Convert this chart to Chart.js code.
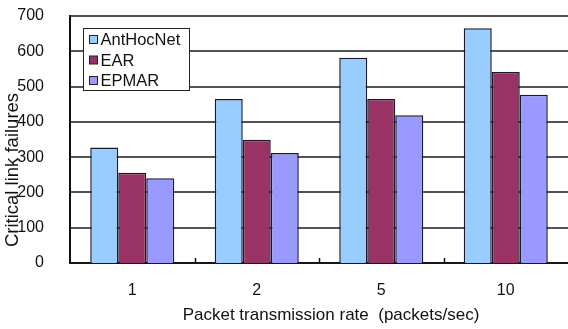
<!DOCTYPE html>
<html>
<head>
<meta charset="utf-8">
<script src="https://cdn.jsdelivr.net/npm/chart.js@4/dist/chart.umd.min.js"></script>
<style>
html,body{margin:0;padding:0;background:#fff;}
#wrap{width:568px;height:329px;position:relative;}
</style>
</head>
<body>
<div id="wrap"><canvas id="c" width="568" height="329"></canvas></div>
<script>
const categories = ["1", "2", "5", "10"];
const antHocNet = [327, 465, 582, 665];
const ear = [256, 349, 465, 541];
const epmar = [240, 312, 419, 477];
const seriesNames = ["AntHocNet", "EAR", "EPMAR"];
const seriesColors = ["#99CCFF", "#993366", "#9999FF"];
const yMin = 0, yMax = 700, yStep = 100;
const xTitle = "Packet transmission rate  (packets/sec)";
const yTitle = "Critical link failures";

const FONT = "Liberation Sans, Arial, sans-serif";

const gridPlugin = {
  id: "gridPlugin",
  beforeDatasetsDraw(chart) {
    const ctx = chart.ctx;
    const xs = chart.scales.x;
    const ys = chart.scales.y;
    const x0 = xs.left, x1 = xs.right;
    ctx.save();
    ctx.globalAlpha = 1;
    ctx.setLineDash([]);
    ctx.strokeStyle = "#1a1a1a";
    ctx.lineWidth = 1.4;
    ys.ticks.forEach(t => {
      const py = Math.round(ys.getPixelForValue(t.value));
      ctx.beginPath();
      ctx.moveTo(x0, py);
      ctx.lineTo(x1, py);
      ctx.stroke();
    });
    ctx.restore();
  }
};

const overlay = {
  id: "overlay",
  afterDraw(chart) {
    const ctx = chart.ctx;
    const ca = chart.chartArea;
    const xs = chart.scales.x;
    ctx.save();
    ctx.strokeStyle = "#111";
    ctx.lineWidth = 1.5;
    const step = xs.getPixelForValue(1) - xs.getPixelForValue(0);
    for (let i = 1; i < categories.length; i++) {
      const px = Math.round(xs.getPixelForValue(i) - step / 2) + 0.5;
      ctx.beginPath();
      ctx.moveTo(px, ca.bottom);
      ctx.lineTo(px, ca.bottom - 5);
      ctx.stroke();
    }
    ctx.fillStyle = "#111";
    ctx.font = "17px " + FONT;
    ctx.textAlign = "center";
    ctx.textBaseline = "middle";
    ctx.fillText(xTitle, (ca.left + ca.right) / 2 + 12, 315);
    ctx.save();
    ctx.translate(13, 170);
    ctx.rotate(-Math.PI / 2);
    ctx.font = "18.5px " + FONT;
    ctx.fillText(yTitle, 0, 0);
    ctx.restore();
    const lx = ca.left + 13.5, ly = ca.top + 12.5, lw = 106, lh = 62;
    ctx.fillStyle = "#fff";
    ctx.fillRect(lx, ly, lw, lh);
    ctx.strokeStyle = "#222";
    ctx.lineWidth = 1;
    ctx.strokeRect(lx, ly, lw, lh);
    ctx.font = "16.5px " + FONT;
    ctx.textAlign = "left";
    ctx.textBaseline = "middle";
    chart.data.datasets.forEach((ds, i) => {
      const cy = ly + 11 + i * 20.5;
      ctx.fillStyle = ds.backgroundColor;
      ctx.fillRect(lx + 6, cy - 4, 8, 8);
      ctx.strokeStyle = "#222";
      ctx.strokeRect(lx + 6, cy - 4, 8, 8);
      ctx.fillStyle = "#111";
      ctx.fillText(ds.label, lx + 17, cy + 1);
    });
    ctx.restore();
  }
};

new Chart(document.getElementById("c"), {
  type: "bar",
  data: {
    labels: categories,
    datasets: [
      { label: seriesNames[0], data: antHocNet, backgroundColor: seriesColors[0] },
      { label: seriesNames[1], data: ear, backgroundColor: seriesColors[1] },
      { label: seriesNames[2], data: epmar, backgroundColor: seriesColors[2] }
    ].map(d => Object.assign(d, {
      borderColor: "#1a1a2a", borderWidth: 1.5, borderSkipped: "bottom",
      categoryPercentage: 0.675, barPercentage: 1
    }))
  },
  options: {
    responsive: false,
    animation: false,
    events: [],
    layout: { padding: { top: 16, right: 0, bottom: 0, left: 0 } },
    plugins: { legend: { display: false }, tooltip: { enabled: false }, title: { display: false } },
    scales: {
      x: {
        grid: { display: false },
        border: { display: true, color: "#111", width: 2 },
        ticks: { color: "#111", font: { family: FONT, size: 16 }, padding: 10 },
        afterFit(s) { s.height = 66; s.paddingLeft = 0; s.paddingRight = 0; }
      },
      y: {
        min: yMin, max: yMax,
        grid: { display: false },
        border: { display: true, color: "#111", width: 2 },
        ticks: { stepSize: yStep, color: "#111", font: { family: FONT, size: 16 }, padding: 18 },
        afterFit(s) { s.width = 70; s.paddingTop = 0; s.paddingBottom = 0; }
      }
    }
  },
  plugins: [gridPlugin, overlay]
});
</script>
</body>
</html>
